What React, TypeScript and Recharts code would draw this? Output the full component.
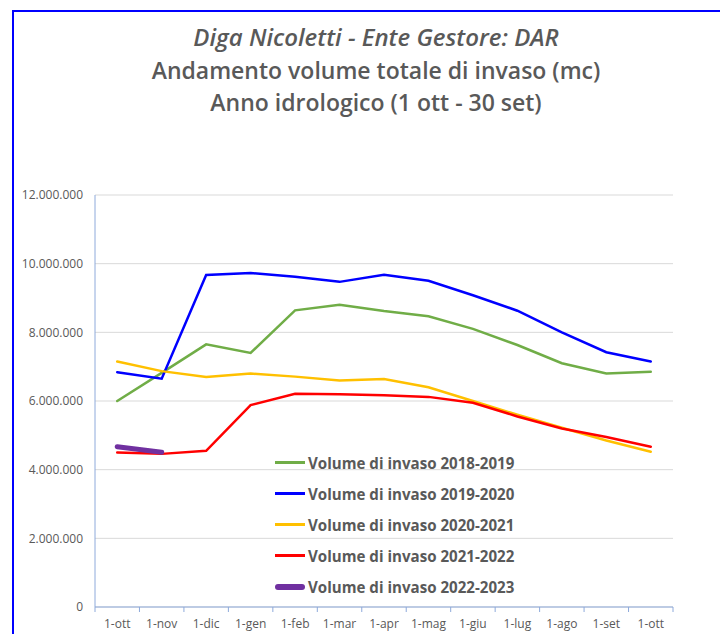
import { LineChart, Line, CartesianGrid, XAxis, YAxis } from 'recharts';

const months = ['1-ott', '1-nov', '1-dic', '1-gen', '1-feb', '1-mar', '1-apr', '1-mag', '1-giu', '1-lug', '1-ago', '1-set', '1-ott'];

const vol2018 = [6000000, 6820000, 7650000, 7400000, 8640000, 8800000, 8620000, 8470000, 8100000, 7630000, 7100000, 6800000, 6850000];
const vol2019 = [6840000, 6650000, 9670000, 9730000, 9620000, 9470000, 9680000, 9500000, 9080000, 8630000, 8000000, 7420000, 7150000];
const vol2020 = [7150000, 6870000, 6700000, 6800000, 6710000, 6600000, 6640000, 6400000, 6000000, 5600000, 5220000, 4850000, 4520000];
const vol2021 = [4500000, 4460000, 4550000, 5880000, 6210000, 6200000, 6170000, 6120000, 5950000, 5550000, 5200000, 4950000, 4670000];
const vol2022 = [4670000, 4510000];

const yTicks = [0, 2000000, 4000000, 6000000, 8000000, 10000000, 12000000];

const series = [
  { key: 's2018', name: 'Volume di invaso 2018-2019', color: '#70AD47', width: 2.5, values: vol2018 },
  { key: 's2019', name: 'Volume di invaso 2019-2020', color: '#0000FF', width: 2.5, values: vol2019 },
  { key: 's2020', name: 'Volume di invaso 2020-2021', color: '#FFC000', width: 2.5, values: vol2020 },
  { key: 's2021', name: 'Volume di invaso 2021-2022', color: '#FF0000', width: 2.5, values: vol2021 },
  { key: 's2022', name: 'Volume di invaso 2022-2023', color: '#7030A0', width: 5, values: vol2022 },
];

const data = months.map((m, i) => {
  const row: Record<string, number | string | undefined> = { idx: String(i), label: m };
  series.forEach((s) => {
    row[s.key] = s.values[i];
  });
  return row;
});

const fmt = (v: number) => String(v).replace(/\B(?=(\d{3})+(?!\d))/g, '.');

const TEXT = '#595959';
const AXIS = '#8EAADB';
const FONT = '"Open Sans", sans-serif';

const XTick = (props: any) => {
  const { x, y, payload, index, visibleTicksCount } = props;
  const half = payload && payload.offset ? payload.offset : 578 / 13 / 2;
  const axisY = y - 12;
  return (
    <g>
      <line x1={x - half} x2={x - half} y1={axisY} y2={axisY + 5} stroke={AXIS} />
      {index === visibleTicksCount - 1 && (
        <line x1={x + half} x2={x + half} y1={axisY} y2={axisY + 5} stroke={AXIS} />
      )}
      <text x={x} y={y} dy="0.71em" textAnchor="middle" fill={TEXT} fontSize={12} fontFamily={FONT}>
        {months[Number(payload.value)]}
      </text>
    </g>
  );
};

const LegendBox = () => (
  <div style={{ position: 'absolute', left: 275, top: 447, fontFamily: FONT }}>
    {series.map((s) => (
      <div key={s.key} style={{ display: 'flex', alignItems: 'center', height: 31 }}>
        <div
          style={{
            width: 30,
            height: s.width > 3 ? 6 : 3,
            background: s.color,
            borderRadius: s.width > 3 ? 3 : 0,
            marginRight: 3,
          }}
        />
        <span style={{ fontWeight: 700, fontSize: 15.1, color: TEXT }}>{s.name}</span>
      </div>
    ))}
  </div>
);

const titleStyle = {
  position: 'absolute' as const,
  left: 0,
  width: 752,
  textAlign: 'center' as const,
  fontFamily: FONT,
  fontSize: 23,
  fontWeight: 600,
  color: TEXT,
  lineHeight: '26px',
};

export default function App() {
  return (
    <div style={{ position: 'fixed', left: 0, top: 0, width: 720, height: 634, background: '#fff', overflow: 'hidden' }}>
      <div
        style={{
          position: 'absolute',
          left: 12,
          top: 10,
          width: 720,
          height: 640,
          borderTop: '2px solid #0000FF',
          borderLeft: '2px solid #0000FF',
        }}
      />
      <div style={{ ...titleStyle, top: 24, fontStyle: 'italic', fontSize: 24 }}>Diga Nicoletti - Ente Gestore: DAR</div>
      <div style={{ ...titleStyle, top: 57 }}>Andamento volume totale di invaso (mc)</div>
      <div style={{ ...titleStyle, top: 89 }}>Anno idrologico (1 ott - 30 set)</div>
      <div style={{ position: 'absolute', left: 0, top: 0 }}>
        <LineChart width={720} height={634} data={data} margin={{ top: 195, right: 47, left: 0, bottom: 0 }}>
          <CartesianGrid vertical={false} stroke="#D9D9D9" />
          <XAxis
            dataKey="idx"
            scale="band"
            height={27}
            stroke={AXIS}
            tickLine={false}
            tickSize={6}
            tickMargin={6}
            interval={0}
            tick={<XTick />}
          />
          <YAxis
            width={95}
            domain={[0, 12000000]}
            ticks={yTicks}
            tickFormatter={fmt}
            stroke={AXIS}
            tickLine={false}
            tickMargin={6}
            tick={{ fill: TEXT, fontSize: 12, fontFamily: FONT }}
          />
          {series.map((s) => (
            <Line
              key={s.key}
              dataKey={s.key}
              name={s.name}
              stroke={s.color}
              strokeWidth={s.width}
              strokeLinecap="round"
              dot={false}
              activeDot={false}
              type="linear"
              isAnimationActive={false}
            />
          ))}
        </LineChart>
      </div>
      <LegendBox />
    </div>
  );
}
